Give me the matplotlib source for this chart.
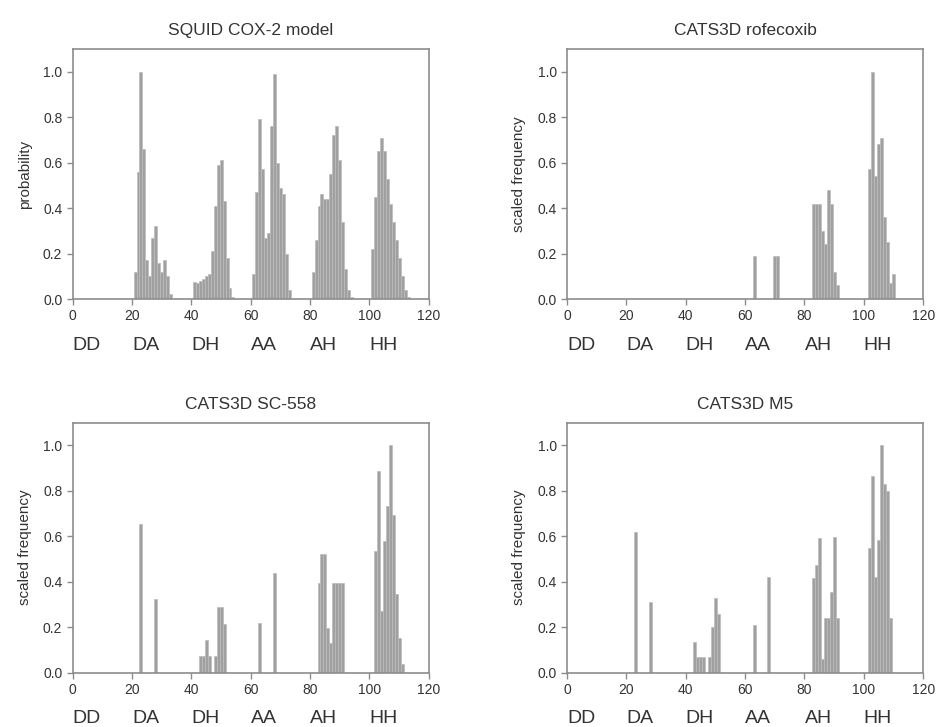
import matplotlib
matplotlib.use("Agg")
import matplotlib.pyplot as plt
import matplotlib.transforms as mtransforms

plt.rcParams['font.family'] = ['Liberation Sans', 'DejaVu Sans']

# pair-type labels under the x axis, one per block of 20 bins
pair_labels = ["DD", "DA", "DH", "AA", "AH", "HH"]
pair_starts = [0, 20, 40, 60, 80, 100]

# SQUID COX-2 model
squid_x = (list(range(21, 34)) + list(range(41, 55)) + list(range(61, 74))
           + list(range(81, 95)) + list(range(101, 114)))
squid_y = [0.12, 0.56, 1.00, 0.66, 0.17, 0.10, 0.27, 0.32, 0.16, 0.12, 0.17, 0.10, 0.02,
           0.075, 0.07, 0.08, 0.09, 0.10, 0.11, 0.21, 0.41, 0.59, 0.61, 0.43, 0.18, 0.05, 0.01,
           0.11, 0.47, 0.79, 0.57, 0.27, 0.29, 0.76, 0.99, 0.60, 0.49, 0.46, 0.20, 0.04,
           0.12, 0.26, 0.41, 0.46, 0.44, 0.44, 0.55, 0.72, 0.76, 0.61, 0.34, 0.13, 0.04, 0.01,
           0.22, 0.45, 0.65, 0.71, 0.65, 0.53, 0.42, 0.34, 0.26, 0.18, 0.10, 0.04, 0.01]

# CATS3D rofecoxib
rofe_x = [63, 70, 71, 83, 84, 85, 86, 87, 88, 89, 90, 91,
          102, 103, 104, 105, 106, 107, 108, 109, 110]
rofe_y = [0.19, 0.19, 0.19, 0.42, 0.42, 0.42, 0.30, 0.24, 0.48, 0.42, 0.12, 0.06,
          0.57, 1.00, 0.54, 0.68, 0.71, 0.36, 0.25, 0.07, 0.11]

# CATS3D SC-558
sc_x = [23, 28, 43, 44, 45, 46, 48, 49, 50, 51, 63, 68,
        83, 84, 85, 86, 87, 88, 89, 90, 91,
        102, 103, 104, 105, 106, 107, 108, 109, 110, 111]
sc_y = [0.655, 0.326, 0.075, 0.075, 0.145, 0.075, 0.075, 0.29, 0.29, 0.215, 0.218, 0.437,
        0.393, 0.52, 0.52, 0.196, 0.13, 0.393, 0.393, 0.393, 0.393,
        0.536, 0.887, 0.27, 0.578, 0.733, 1.00, 0.692, 0.347, 0.151, 0.04]

# CATS3D M5
m5_x = [23, 28, 43, 44, 45, 46, 48, 49, 50, 51, 63, 68,
        83, 84, 85, 86, 87, 88, 89, 90, 91,
        102, 103, 104, 105, 106, 107, 108, 109]
m5_y = [0.62, 0.31, 0.133, 0.067, 0.067, 0.067, 0.067, 0.20, 0.33, 0.26, 0.21, 0.42,
        0.416, 0.475, 0.593, 0.06, 0.24, 0.24, 0.357, 0.597, 0.24,
        0.55, 0.863, 0.42, 0.585, 1.00, 0.83, 0.80, 0.24]

panels = [
    ("SQUID COX-2 model", "probability", squid_x, squid_y),
    ("CATS3D rofecoxib", "scaled frequency", rofe_x, rofe_y),
    ("CATS3D SC-558", "scaled frequency", sc_x, sc_y),
    ("CATS3D M5", "scaled frequency", m5_x, m5_y),
]
positions = [
    [0.0772, 0.5887, 0.378, 0.344],
    [0.602, 0.5887, 0.378, 0.344],
    [0.0772, 0.0747, 0.378, 0.344],
    [0.602, 0.0747, 0.378, 0.344],
]

text_col = '#333333'
spine_col = '#8c8c8c'
bar_col = '#a0a0a0'

fig = plt.figure(figsize=(9.42, 7.27), dpi=100)

for (title, ylab, xs, ys), pos in zip(panels, positions):
    ax = fig.add_axes(pos)
    ax.bar(xs, ys, width=1.0, color=bar_col, edgecolor='#bcbcbc', linewidth=0.5)
    ax.set_xlim(0, 120)
    ax.set_ylim(0, 1.1)
    ax.set_xticks(range(0, 121, 20))
    ax.set_yticks([0.0, 0.2, 0.4, 0.6, 0.8, 1.0])
    ax.set_yticklabels(["0.0", "0.2", "0.4", "0.6", "0.8", "1.0"])
    ax.tick_params(colors=spine_col, labelcolor=text_col, labelsize=10,
                   length=4, width=1, direction='out')
    for s in ax.spines.values():
        s.set_color(spine_col)
        s.set_linewidth(1.2)
    ax.set_title(title, fontsize=12.5, color=text_col, pad=10)
    ax.set_ylabel(ylab, fontsize=11, color=text_col, labelpad=8)
    trans = mtransforms.blended_transform_factory(ax.transData, ax.transAxes)
    for lab, x0 in zip(pair_labels, pair_starts):
        ax.text(x0, -0.185, lab, transform=trans, ha='left', va='center',
                fontsize=14, color=text_col)

fig.savefig("out.png", dpi=100)
